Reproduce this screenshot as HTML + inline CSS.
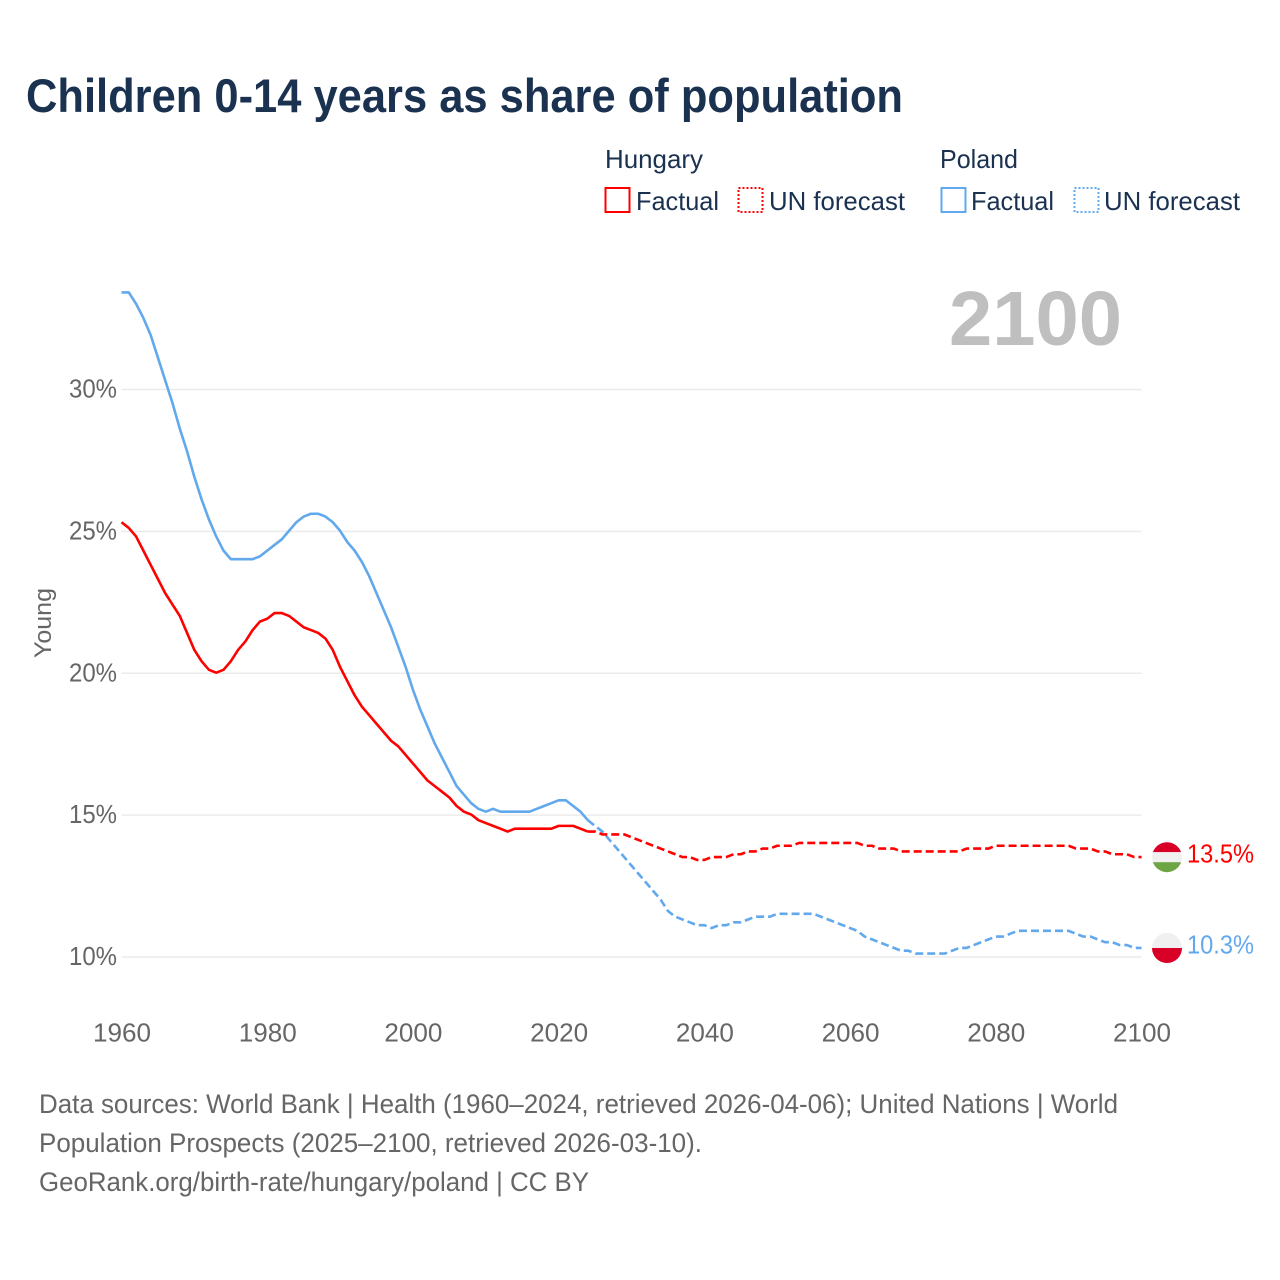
<!DOCTYPE html>
<html lang="en">
<head>
<meta charset="utf-8">
<title>Children 0-14 years as share of population</title>
<style>
html,body{margin:0;padding:0;background:#fff;width:1280px;height:1280px;overflow:hidden}
svg{display:block}
text{font-family:"Liberation Sans",sans-serif}
.leg{font-size:26px;fill:#1a3150}
.tick{font-size:26px;fill:#666}
.foot{font-size:26.5px;fill:#666}
</style>
</head>
<body>
<svg id="chart" xmlns="http://www.w3.org/2000/svg" width="1280" height="1280" viewBox="0 0 1280 1280">
  <defs>
    <clipPath id="flag-clip-hu"><circle id="clip-hu" cx="1167" cy="857" r="15"/></clipPath>
    <clipPath id="flag-clip-pl"><circle id="clip-pl" cx="1167" cy="948" r="15"/></clipPath>
  </defs>
  <rect width="1280" height="1280" fill="#fff"/>
  <text x="26" y="112" font-size="47" font-weight="700" fill="#1a3150" textLength="877" lengthAdjust="spacingAndGlyphs">Children 0-14 years as share of population</text>

  <g>
    <text class="leg" x="605" y="168" textLength="98" lengthAdjust="spacingAndGlyphs">Hungary</text>
    <text class="leg" x="940" y="168" textLength="78" lengthAdjust="spacingAndGlyphs">Poland</text>
    <g>
      <rect x="605.5" y="188" width="24" height="24" fill="none" stroke="#ff0000" stroke-width="2"/>
      <text class="leg" x="636" y="210" textLength="83" lengthAdjust="spacingAndGlyphs">Factual</text>
    </g>
    <g>
      <rect x="738.5" y="188" width="24" height="24" fill="none" stroke="#ff0000" stroke-width="2" stroke-dasharray="2 2"/>
      <text class="leg" x="769" y="210" textLength="136" lengthAdjust="spacingAndGlyphs">UN forecast</text>
    </g>
    <g>
      <rect x="941.5" y="188" width="24" height="24" fill="none" stroke="#62a8ec" stroke-width="2"/>
      <text class="leg" x="971" y="210" textLength="83" lengthAdjust="spacingAndGlyphs">Factual</text>
    </g>
    <g>
      <rect x="1074.5" y="188" width="24" height="24" fill="none" stroke="#62a8ec" stroke-width="2" stroke-dasharray="2 2"/>
      <text class="leg" x="1104" y="210" textLength="136" lengthAdjust="spacingAndGlyphs">UN forecast</text>
    </g>
  </g>

  <text x="949" y="345" font-size="77" font-weight="700" fill="#bfbfbf" textLength="173" lengthAdjust="spacingAndGlyphs">2100</text>
  <text transform="translate(51 623) rotate(-90)" text-anchor="middle" font-size="24" fill="#666" textLength="70" lengthAdjust="spacingAndGlyphs">Young</text>

  <g id="grid"></g>
  <g id="yticks"></g>
  <g id="xticks"></g>
  <g id="series" transform="translate(0 -0.6)"></g>

  <g id="flag-hu" clip-path="url(#flag-clip-hu)">
    <rect id="hu-a" x="1150" width="34" height="11" fill="#d80027"/>
    <rect id="hu-b" x="1150" width="34" height="10" fill="#f0f0f0"/>
    <rect id="hu-c" x="1150" width="34" height="11" fill="#6da544"/>
  </g>
  <g id="flag-pl" clip-path="url(#flag-clip-pl)">
    <rect id="pl-a" x="1150" width="34" height="16" fill="#f0f0f0"/>
    <rect id="pl-b" x="1150" width="34" height="16" fill="#d80027"/>
  </g>
  <text id="label-hu" x="1187" font-size="26" fill="#ff0000" textLength="67" lengthAdjust="spacingAndGlyphs"></text>
  <text id="label-pl" x="1187" font-size="26" fill="#62a8ec" textLength="67" lengthAdjust="spacingAndGlyphs"></text>

  <g>
    <text class="foot" x="39" y="1113" textLength="1079" lengthAdjust="spacingAndGlyphs">Data sources: World Bank | Health (1960–2024, retrieved 2026-04-06); United Nations | World</text>
    <text class="foot" x="39" y="1152" textLength="663" lengthAdjust="spacingAndGlyphs">Population Prospects (2025–2100, retrieved 2026-03-10).</text>
    <text class="foot" x="39" y="1191" textLength="550" lengthAdjust="spacingAndGlyphs">GeoRank.org/birth-rate/hungary/poland | CC BY</text>
  </g>
</svg>
<script>
const factualYears = [
  1960,1961,1962,1963,1964,1965,1966,1967,1968,1969,
  1970,1971,1972,1973,1974,1975,1976,1977,1978,1979,
  1980,1981,1982,1983,1984,1985,1986,1987,1988,1989,
  1990,1991,1992,1993,1994,1995,1996,1997,1998,1999,
  2000,2001,2002,2003,2004,2005,2006,2007,2008,2009,
  2010,2011,2012,2013,2014,2015,2016,2017,2018,2019,
  2020,2021,2022,2023,2024];
const hungaryFactual = [
  25.3,25.1,24.8,24.3,23.8,23.3,22.8,22.4,22.0,21.4,
  20.8,20.4,20.1,20.0,20.1,20.4,20.8,21.1,21.5,21.8,
  21.9,22.1,22.1,22.0,21.8,21.6,21.5,21.4,21.2,20.8,
  20.2,19.7,19.2,18.8,18.5,18.2,17.9,17.6,17.4,17.1,
  16.8,16.5,16.2,16.0,15.8,15.6,15.3,15.1,15.0,14.8,
  14.7,14.6,14.5,14.4,14.5,14.5,14.5,14.5,14.5,14.5,
  14.6,14.6,14.6,14.5,14.4];
const polandFactual = [
  33.4,33.4,33.0,32.5,31.9,31.1,30.3,29.5,28.6,27.8,
  26.9,26.1,25.4,24.8,24.3,24.0,24.0,24.0,24.0,24.1,
  24.3,24.5,24.7,25.0,25.3,25.5,25.6,25.6,25.5,25.3,
  25.0,24.6,24.3,23.9,23.4,22.8,22.2,21.6,20.9,20.2,
  19.4,18.7,18.1,17.5,17.0,16.5,16.0,15.7,15.4,15.2,
  15.1,15.2,15.1,15.1,15.1,15.1,15.1,15.2,15.3,15.4,
  15.5,15.5,15.3,15.1,14.8];
const forecastYears = [
  2024,2025,2026,2027,2028,2029,
  2030,2031,2032,2033,2034,2035,2036,2037,2038,2039,
  2040,2041,2042,2043,2044,2045,2046,2047,2048,2049,
  2050,2051,2052,2053,2054,2055,2056,2057,2058,2059,
  2060,2061,2062,2063,2064,2065,2066,2067,2068,2069,
  2070,2071,2072,2073,2074,2075,2076,2077,2078,2079,
  2080,2081,2082,2083,2084,2085,2086,2087,2088,2089,
  2090,2091,2092,2093,2094,2095,2096,2097,2098,2099,
  2100];
const hungaryForecast = [
  14.4,14.4,14.3,14.3,14.3,14.3,
  14.2,14.1,14.0,13.9,13.8,13.7,13.6,13.5,13.5,13.4,
  13.4,13.5,13.5,13.5,13.6,13.6,13.7,13.7,13.8,13.8,
  13.9,13.9,13.9,14.0,14.0,14.0,14.0,14.0,14.0,14.0,
  14.0,14.0,13.9,13.9,13.8,13.8,13.8,13.7,13.7,13.7,
  13.7,13.7,13.7,13.7,13.7,13.7,13.8,13.8,13.8,13.8,
  13.9,13.9,13.9,13.9,13.9,13.9,13.9,13.9,13.9,13.9,
  13.9,13.8,13.8,13.8,13.7,13.7,13.6,13.6,13.6,13.5,
  13.5];
const polandForecast = [
  14.8,14.6,14.4,14.1,13.8,13.5,
  13.2,12.9,12.6,12.3,12.0,11.6,11.4,11.3,11.2,11.1,
  11.1,11.0,11.1,11.1,11.2,11.2,11.3,11.4,11.4,11.4,
  11.5,11.5,11.5,11.5,11.5,11.5,11.4,11.3,11.2,11.1,
  11.0,10.9,10.7,10.6,10.5,10.4,10.3,10.2,10.2,10.1,
  10.1,10.1,10.1,10.1,10.2,10.3,10.3,10.4,10.5,10.6,
  10.7,10.7,10.8,10.9,10.9,10.9,10.9,10.9,10.9,10.9,
  10.9,10.8,10.7,10.7,10.6,10.5,10.5,10.4,10.4,10.3,
  10.3];
const yTickValues = [10,15,20,25,30];
const xTickValues = [1960,1980,2000,2020,2040,2060,2080,2100];
const hungaryEndLabel = ["13.5%"];
const polandEndLabel = ["10.3%"];

function xScale(year){ return 121.5 + (year - 1960) * (1020 / 140); }
function yScale(v){ return 957 - (v - 10) * (567.5 / 20); }
const NS = "http://www.w3.org/2000/svg";
function pathFrom(years, values){
  return values.map(function(v, i){
    return (i ? "L" : "M") + xScale(years[i]).toFixed(2) + " " + yScale(v).toFixed(2);
  }).join("");
}

const gridGroup = document.getElementById("grid");
const yGroup = document.getElementById("yticks");
yTickValues.forEach(function(v){
  const line = document.createElementNS(NS, "line");
  
  
  line.setAttribute("x1", xScale(1960));
  line.setAttribute("x2", xScale(2100));
  line.setAttribute("y1", yScale(v));
  line.setAttribute("y2", yScale(v));
  line.setAttribute("stroke", "#ebebeb");
  line.setAttribute("stroke-width", "1.5");
  gridGroup.appendChild(line);
  const label = document.createElementNS(NS, "text");
  
  
  label.setAttribute("class", "tick");
  label.setAttribute("x", 69);
  label.setAttribute("y", yScale(v) + 8);
  label.setAttribute("textLength", 48);
  label.setAttribute("lengthAdjust", "spacingAndGlyphs");
  label.textContent = v + "%";
  yGroup.appendChild(label);
});

const xGroup = document.getElementById("xticks");
xTickValues.forEach(function(t){
  const label = document.createElementNS(NS, "text");
  
  
  label.setAttribute("class", "tick");
  label.setAttribute("x", xScale(t) - 28.5);
  label.setAttribute("y", 1041.5);
  label.setAttribute("textLength", 58);
  label.setAttribute("lengthAdjust", "spacingAndGlyphs");
  label.textContent = t;
  xGroup.appendChild(label);
});

const seriesGroup = document.getElementById("series");
function addLine(name, years, values, color, dash){
  const p = document.createElementNS(NS, "path");
  
  
  p.setAttribute("d", pathFrom(years, values));
  p.setAttribute("fill", "none");
  p.setAttribute("stroke", color);
  p.setAttribute("stroke-width", "2.6");
  p.setAttribute("stroke-linejoin", "round");
  if (dash) p.setAttribute("stroke-dasharray", dash);
  seriesGroup.appendChild(p);
}
addLine("poland-factual-line", factualYears, polandFactual, "#62a8ec", null);
addLine("hungary-factual-line", factualYears, hungaryFactual, "#ff0000", null);
addLine("poland-forecast-line", forecastYears, polandForecast, "#62a8ec", "8 4");
addLine("hungary-forecast-line", forecastYears, hungaryForecast, "#ff0000", "8 4");

const huY = yScale(hungaryForecast[hungaryForecast.length - 1]);
const plY = yScale(polandForecast[polandForecast.length - 1]);
document.getElementById("clip-hu").setAttribute("cy", huY - 0.5);
document.getElementById("clip-pl").setAttribute("cy", plY - 0.5);
document.getElementById("hu-a").setAttribute("y", huY - 16.5);
document.getElementById("hu-b").setAttribute("y", huY - 5.5);
document.getElementById("hu-c").setAttribute("y", huY + 4.5);
document.getElementById("pl-a").setAttribute("y", plY - 16.5);
document.getElementById("pl-b").setAttribute("y", plY - 0.5);
const labelHu = document.getElementById("label-hu");
labelHu.setAttribute("y", huY + 5);
labelHu.textContent = hungaryEndLabel[0];
const labelPl = document.getElementById("label-pl");
labelPl.setAttribute("y", plY + 5);
labelPl.textContent = polandEndLabel[0];
</script>
</body>
</html>
